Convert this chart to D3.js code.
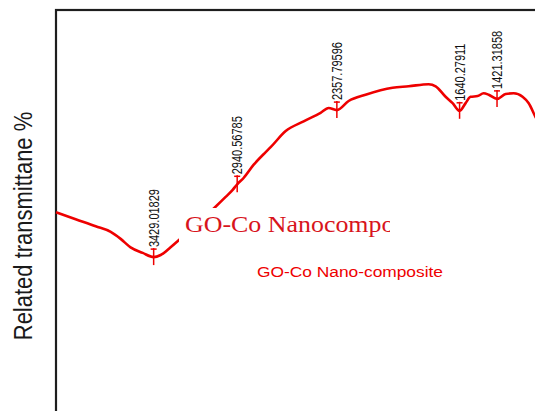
<!DOCTYPE html>
<html>
<head>
<meta charset="utf-8">
<script src="https://cdn.jsdelivr.net/npm/d3@7/dist/d3.min.js"></script>
<style>
  html, body { margin: 0; padding: 0; background: #fff; }
  svg { display: block; }
</style>
</head>
<body>
<svg id="chart" width="535" height="411"></svg>
<script>
// FTIR spectrum of the GO-Co nano-composite (wavenumber in cm^-1, transmittance in %)
const wavenumber = [
  4000, 3885, 3768, 3680, 3622, 3564, 3493, 3429.01829, 3388, 3330, 3283, 3213,
  3137, 3067, 3008, 2967, 2940.56785, 2903, 2844, 2774, 2745, 2657, 2552, 2453,
  2406, 2357.79596, 2289, 2190, 2032, 1938, 1821, 1780, 1722, 1681, 1640.27911,
  1605, 1576, 1535, 1500, 1470, 1421.31858, 1371, 1324, 1272, 1237, 1196, 1166
];
const transmittance = [
  71.1, 70.1, 69.1, 68.3, 67.3, 66.1, 65.3, 64.7, 65.0, 66.1, 67.1, 68.6,
  70.3, 71.9, 73.3, 74.3, 75.1, 76.0, 77.9, 79.7, 80.4, 82.7, 84.1, 85.3,
  86.0, 85.7, 87.0, 87.9, 88.9, 89.1, 89.4, 89.1, 87.6, 86.7, 85.6,
  86.7, 87.6, 87.7, 88.1, 87.9, 87.3, 88.0, 88.1, 87.6, 86.7, 84.7, 83.3
];
// picked peaks
const peakWavenumbers = [3429.01829, 2940.56785, 2357.79596, 1640.27911, 1421.31858];
const peakLabels = ["3429.01829", "2940.56785", "2357.79596", "1640.27911", "1421.31858"];

const yAxisTitle = "Related transmittane %";
const titleText = "GO-Co Nanocomposite";
const legendText = "GO-Co Nano-composite";

const svg = d3.select("#chart");
const lineColor = "#ee0000";

const x = d3.scaleLinear().domain([4000, 400]).range([56, 671.7]);
const y = d3.scaleLinear().domain([40, 100]).range([430, 10]);

const spectrum = wavenumber.map((w, i) => ({ w, t: transmittance[i] }));

// plot frame
svg.append("rect")
  .attr("x", x(4000)).attr("y", y(100))
  .attr("width", 700).attr("height", 600)
  .attr("fill", "none")
  .attr("stroke", "#1e1e1e")
  .attr("stroke-width", 2.2);

// spectrum line
const line = d3.line()
  .x(d => x(d.w))
  .y(d => y(d.t))
  .curve(d3.curveMonotoneX);

svg.append("path")
  .datum(spectrum)
  .attr("d", line)
  .attr("fill", "none")
  .attr("stroke", lineColor)
  .attr("stroke-width", 2.6)
  .attr("stroke-linejoin", "round");

// peak markers and labels
const peaks = peakWavenumbers.map((w, i) => {
  const idx = wavenumber.indexOf(w);
  return { w, t: transmittance[idx], label: peakLabels[i] };
});

const pk = svg.append("g").selectAll("g").data(peaks).join("g")
  .attr("transform", d => `translate(${x(d.w)},${y(d.t)})`);

pk.append("line")
  .attr("x1", 0).attr("x2", 0).attr("y1", -9).attr("y2", 8)
  .attr("stroke", lineColor).attr("stroke-width", 1.5);
pk.append("line")
  .attr("x1", -3).attr("x2", 3).attr("y1", -8).attr("y2", -8)
  .attr("stroke", lineColor).attr("stroke-width", 1.5);
pk.append("text")
  .attr("transform", "translate(0,-10) scale(1.25,1) rotate(-90)")
  .attr("dy", "0.36em")
  .attr("font-family", "Liberation Sans, Arial, sans-serif")
  .attr("font-size", 11)
  .attr("fill", "#111")
  .text(d => d.label);

// y-axis title
svg.append("text")
  .attr("transform", "translate(32,226) scale(1.15,1) rotate(-90)")
  .attr("text-anchor", "middle")
  .attr("font-family", "Liberation Sans, Arial, sans-serif")
  .attr("font-size", 22)
  .attr("fill", "#1a1a1a")
  .text(yAxisTitle);

// title box (white, clipped)
svg.append("clipPath").attr("id", "titleClip")
  .append("rect").attr("x", 179).attr("y", 208).attr("width", 211).attr("height", 40);
svg.append("rect")
  .attr("x", 179).attr("y", 208).attr("width", 211).attr("height", 40)
  .attr("fill", "#fff");
svg.append("g").attr("clip-path", "url(#titleClip)")
  .append("text")
  .attr("transform", "translate(185,232) scale(1.08,1)")
  .attr("font-family", "Liberation Serif, Times New Roman, serif")
  .attr("font-size", 24)
  .attr("fill", "#d8141c")
  .text(titleText);

// legend text
svg.append("text")
  .attr("transform", "translate(257,277) scale(1.12,1)")
  .attr("font-family", "Liberation Sans, Arial, sans-serif")
  .attr("font-size", 15.5)
  .attr("fill", "#ee0000")
  .text(legendText);
</script>
</body>
</html>
